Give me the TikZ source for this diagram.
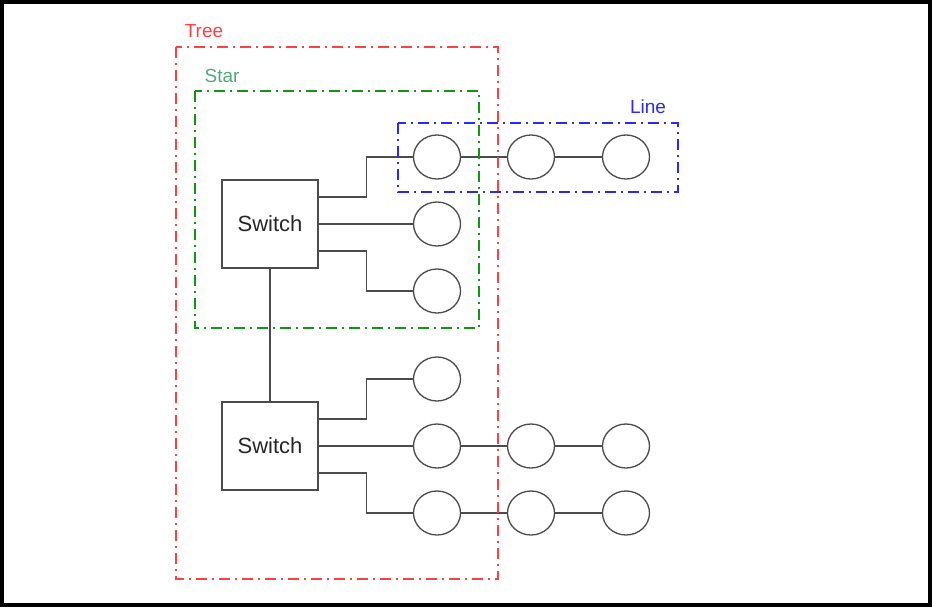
\documentclass[tikz,border=0pt]{standalone}
\usepackage{fontspec}
\setmainfont{Liberation Sans}
\usetikzlibrary{shapes.geometric}
\definecolor{treered}{RGB}{255,64,64}
\definecolor{stargreen}{RGB}{20,150,20}
\definecolor{startext}{RGB}{80,170,120}
\definecolor{lineblue}{RGB}{40,40,255}
\begin{document}
\begin{tikzpicture}[x=1pt,y=-1pt,
    wire/.style={draw=black!70,line width=1.3pt},
    switchbox/.style={draw=black!70,line width=1.3pt,minimum width=96pt,
      minimum height=88pt,inner sep=0pt,text=black!85,
      font=\fontsize{22}{26}\selectfont},
    dev/.style={ellipse,draw=black!70,line width=1.3pt,minimum width=47pt,
      minimum height=44pt,inner sep=0pt},
    zone/.style={line width=1.8pt,dash pattern=on 11pt off 5pt on 2pt off 5pt},
    tag/.style={font=\fontsize{19}{22}\selectfont}]
  \useasboundingbox (0,0) rectangle (932,608);
  \draw [line width=4pt] (2,2) rectangle (930,605);
  % switches
  \node [switchbox] (sw1) at (270,224) {Switch};
  \node [switchbox] (sw2) at (270,446) {Switch};
  % end devices
  \foreach \r/\y in {1/157,2/224,3/291,4/379,5/446,6/513}
    \node [dev] (d\r1) at (437,\y) {};
  \foreach \r/\y in {1/157,5/446,6/513} {
    \node [dev] (d\r2) at (531,\y) {};
    \node [dev] (d\r3) at (626,\y) {};
    \draw [wire] (d\r1) -- (d\r2) -- (d\r3);
  }
  % links
  \draw [wire] (sw1) -- (sw2);
  \draw [wire] ([yshift=27pt]sw1.east) -- ++(48,0) |- (d11);
  \draw [wire] (sw1) -- (d21);
  \draw [wire] ([yshift=-27pt]sw1.east) -- ++(48,0) |- (d31);
  \draw [wire] ([yshift=27pt]sw2.east) -- ++(48,0) |- (d41);
  \draw [wire] (sw2) -- (d51);
  \draw [wire] ([yshift=-27pt]sw2.east) -- ++(48,0) |- (d61);
  % zones
  \draw [zone,treered] (176,47) rectangle (498,579);
  \node [tag,text=treered] (treetag) at (204,31) {Tree};
  \draw [zone,stargreen] (195,91) rectangle (479,328);
  \node [tag,text=startext] (startag) at (222,76) {Star};
  \draw [zone,lineblue] (398,123) rectangle (678,192);
  \node [tag,text=lineblue] (linetag) at (648,107) {Line};
\end{tikzpicture}
\end{document}
